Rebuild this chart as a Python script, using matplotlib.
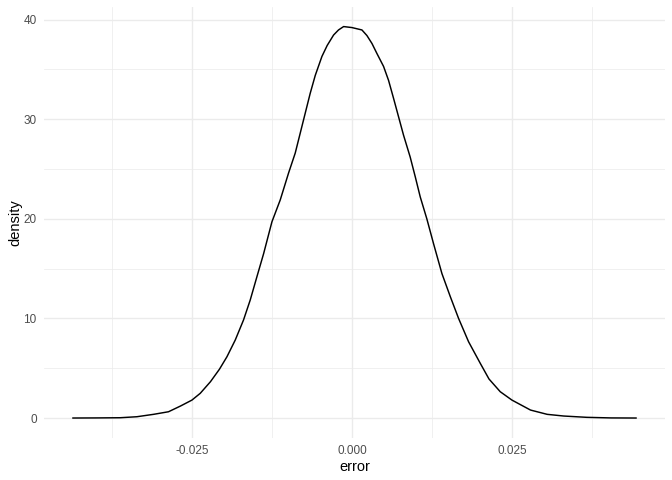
import matplotlib
matplotlib.use("Agg")
import matplotlib.pyplot as plt
from matplotlib.ticker import MultipleLocator

# density estimate of "error"
error = [-0.0437, -0.0400, -0.0362, -0.0336, -0.0310, -0.02866, -0.0268,
         -0.0250, -0.0237, -0.0221, -0.0207, -0.01953, -0.01823, -0.01694, -0.01589,
         -0.01484, -0.0138, -0.0125, -0.0112, -0.0099, -0.00886, -0.00808, -0.0073,
         -0.00652, -0.00573, -0.00469, -0.00387, -0.00287, -0.0021, -0.0013, 0.0,
         0.00156, 0.00234, 0.00313, 0.0039, 0.00494, 0.00572, 0.0065, 0.00728,
         0.00806, 0.0091, 0.0099, 0.01067, 0.0117, 0.01275, 0.01406, 0.01536,
         0.01666, 0.01822, 0.02005, 0.02141, 0.02317, 0.0250, 0.0279, 0.0305,
         0.0331, 0.0367, 0.0405, 0.0445]
density = [0.0, 0.01, 0.03, 0.13, 0.37, 0.63, 1.2,
           1.8, 2.48, 3.65, 4.9, 6.15, 7.83, 9.84, 11.85,
           14.2, 16.5, 19.7, 21.9, 24.6, 26.6, 28.6, 30.6,
           32.6, 34.4, 36.3, 37.4, 38.45, 38.96, 39.3, 39.2,
           38.96, 38.4, 37.6, 36.6, 35.3, 33.9, 32.1, 30.25,
           28.4, 26.2, 24.2, 22.2, 20.0, 17.5, 14.5, 12.2,
           10.0, 7.66, 5.49, 3.92, 2.64, 1.8, 0.80, 0.37,
           0.20, 0.07, 0.01, 0.0]

x_ticks = [-0.025, 0.0, 0.025]
x_labels = ["-0.025", "0.000", "0.025"]
y_ticks = [0, 10, 20, 30, 40]
y_labels = ["0", "10", "20", "30", "40"]

plt.rcParams['font.family'] = ['Liberation Sans', 'DejaVu Sans']
fig = plt.figure(figsize=(7, 5), dpi=96)
W, H = 672, 480
ax = fig.add_axes([44 / W, 1 - 437.6 / H, (665 - 44) / W, (437.6 - 7) / H])

ax.plot(error, density, color="black", lw=1.1, solid_joinstyle="round",
        solid_capstyle="butt", zorder=3)
ax.margins(x=0.05, y=0.05)

ax.set_xticks(x_ticks)
ax.set_xticklabels(x_labels)
ax.set_yticks(y_ticks)
ax.set_yticklabels(y_labels)
ax.xaxis.set_minor_locator(MultipleLocator(0.0125))
ax.yaxis.set_minor_locator(MultipleLocator(5))

grid = "#EBEBEB"
ax.grid(which="major", color=grid, lw=1.05, zorder=0)
ax.grid(which="minor", color=grid, lw=0.55, zorder=0)
ax.set_axisbelow(True)
for s in ax.spines.values():
    s.set_visible(False)
ax.tick_params(which="both", length=0)
ax.tick_params(axis="both", which="major", labelsize=8.8, colors="#4D4D4D", pad=5.5)

ax.set_xlabel("error", fontsize=11, color="black", labelpad=2.5)
ax.set_ylabel("density", fontsize=11, color="black", labelpad=1)

fig.savefig("out.png", dpi=96)
